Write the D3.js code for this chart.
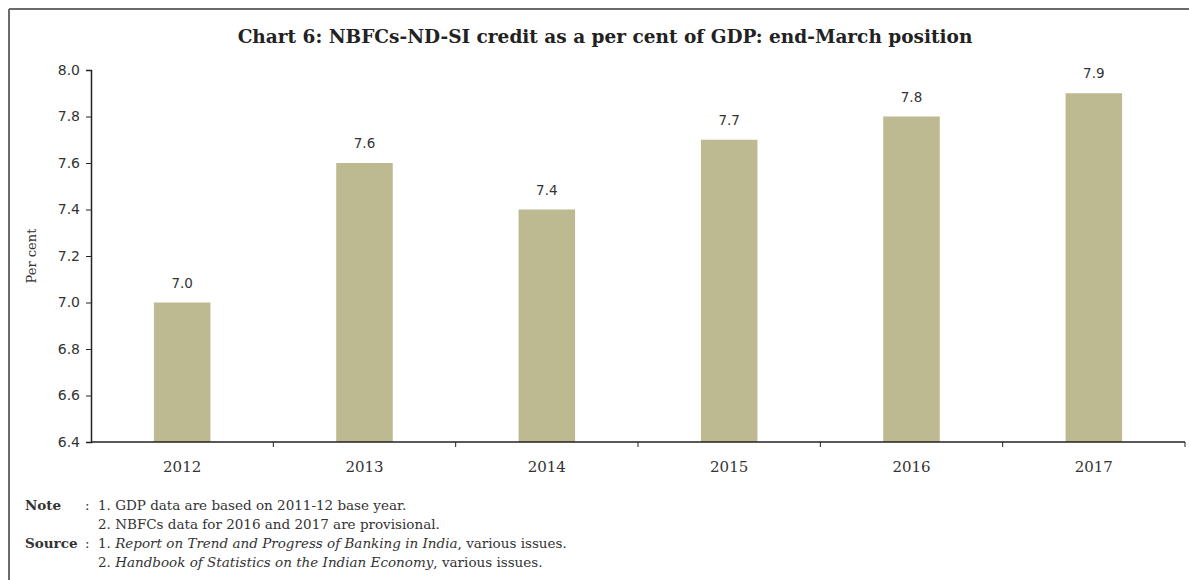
<!DOCTYPE html>
<html>
<head>
<meta charset="utf-8">
<script src="https://cdn.jsdelivr.net/npm/d3@7"></script>
<style>
  body { margin: 0; background: #fff; }
  svg { display: block; }
</style>
</head>
<body>
<svg id="chart" width="1189" height="580"></svg>
<script>
// data
const years = ['2012', '2013', '2014', '2015', '2016', '2017'];
const credit = [7.0, 7.6, 7.4, 7.7, 7.8, 7.9];
const yTicks = [6.4, 6.6, 6.8, 7.0, 7.2, 7.4, 7.6, 7.8, 8.0];

const titleText = 'Chart 6: NBFCs-ND-SI credit as a per cent of GDP: end-March position';
const noteLines = [
  '1. GDP data are based on 2011-12 base year.',
  '2. NBFCs data for 2016 and 2017 are provisional.'
];

const svg = d3.select('#chart');
const width = 1189;
const height = 580;

// plot area
const margin = {top: 70, right: 4, bottom: 138, left: 91};

const x = d3.scaleBand()
  .domain(years)
  .range([margin.left, width - margin.right])
  .paddingInner(0.69)
  .paddingOuter(0.345);

const y = d3.scaleLinear()
  .domain([6.4, 8.0])
  .range([height - margin.bottom, margin.top]);

// frame: only top and left edges show in the picture
svg.append('line')
  .attr('x1', 9).attr('x2', width).attr('y1', 9).attr('y2', 9)
  .attr('stroke', '#6a6a6a').attr('stroke-width', 2);
svg.append('line')
  .attr('x1', 9).attr('x2', 9).attr('y1', 9).attr('y2', height)
  .attr('stroke', '#6a6a6a').attr('stroke-width', 2);

// title
svg.append('text')
  .attr('x', 605)
  .attr('y', 43)
  .attr('text-anchor', 'middle')
  .attr('font-family', '"DejaVu Serif", serif')
  .attr('font-weight', 'bold')
  .attr('font-size', 18.5)
  .attr('fill', '#222')
  .text(titleText);

// bars
svg.append('g')
  .selectAll('rect')
  .data(years)
  .join('rect')
  .attr('x', d => x(d))
  .attr('width', x.bandwidth())
  .attr('y', (d, i) => y(credit[i]))
  .attr('height', (d, i) => y(6.4) - y(credit[i]))
  .attr('fill', '#bdb991');

// value labels
svg.append('g')
  .selectAll('text')
  .data(years)
  .join('text')
  .attr('x', d => x(d) + x.bandwidth() / 2)
  .attr('y', (d, i) => y(credit[i]) - 15)
  .attr('text-anchor', 'middle')
  .attr('font-family', '"DejaVu Sans", sans-serif')
  .attr('font-size', 13.5)
  .attr('fill', '#333')
  .text((d, i) => credit[i].toFixed(1));

// y axis
const yAxis = svg.append('g')
  .attr('transform', `translate(${margin.left},0)`)
  .call(d3.axisLeft(y).tickValues(yTicks).tickFormat(d3.format('.1f')).tickSize(5).tickPadding(6));
yAxis.select('.domain').attr('stroke', '#222').attr('stroke-width', 1.5);
yAxis.selectAll('.tick line').attr('stroke', '#222');
yAxis.selectAll('.tick text')
  .attr('font-family', '"DejaVu Sans", sans-serif')
  .attr('font-size', 14)
  .attr('fill', '#333');

// x axis: ticks sit on band boundaries
const step = x.step();
const xAxis = svg.append('g')
  .attr('transform', `translate(0,${y(6.4)})`);
xAxis.append('line')
  .attr('x1', margin.left).attr('x2', width - margin.right)
  .attr('stroke', '#222').attr('stroke-width', 1.5);
xAxis.selectAll('line.tk')
  .data(years)
  .join('line')
  .attr('class', 'tk')
  .attr('x1', d => x(d) + x.bandwidth() / 2 + step / 2)
  .attr('x2', d => x(d) + x.bandwidth() / 2 + step / 2)
  .attr('y1', 0).attr('y2', 5)
  .attr('stroke', '#222');
xAxis.selectAll('text')
  .data(years)
  .join('text')
  .attr('x', d => x(d) + x.bandwidth() / 2)
  .attr('y', 30)
  .attr('text-anchor', 'middle')
  .attr('font-family', '"DejaVu Serif", serif')
  .attr('font-size', 15)
  .attr('fill', '#333')
  .text(d => d);

// y axis title
svg.append('text')
  .attr('transform', `translate(36,${(y(6.4) + y(8.0)) / 2}) rotate(-90)`)
  .attr('text-anchor', 'middle')
  .attr('font-family', '"DejaVu Serif", serif')
  .attr('font-size', 13)
  .attr('fill', '#333')
  .text('Per cent');

// notes and sources
const foot = svg.append('g')
  .attr('font-family', '"DejaVu Serif", serif')
  .attr('font-size', 13.5)
  .attr('fill', '#333');

foot.append('text').attr('x', 25).attr('y', 510).attr('font-weight', 'bold').text('Note');
foot.append('text').attr('x', 85).attr('y', 510).text(':');
foot.append('text').attr('x', 25).attr('y', 548).attr('font-weight', 'bold').text('Source');
foot.append('text').attr('x', 85).attr('y', 548).text(':');

foot.selectAll('text.note')
  .data(noteLines)
  .join('text')
  .attr('class', 'note')
  .attr('x', 98)
  .attr('y', (d, i) => 510 + i * 19)
  .text(d => d);

const s1 = foot.append('text').attr('x', 98).attr('y', 548);
s1.append('tspan').text('1. ');
s1.append('tspan').attr('font-style', 'italic').text('Report on Trend and Progress of Banking in India');
s1.append('tspan').text(', various issues.');

const s2 = foot.append('text').attr('x', 98).attr('y', 567);
s2.append('tspan').text('2. ');
s2.append('tspan').attr('font-style', 'italic').text('Handbook of Statistics on the Indian Economy');
s2.append('tspan').text(', various issues.');
</script>
</body>
</html>
